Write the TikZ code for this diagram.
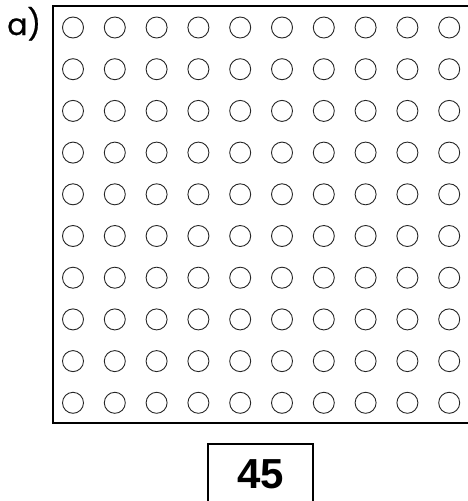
\documentclass[tikz,border=0pt]{standalone}
\usepackage{fontspec}
\newfontfamily\labelfont[FakeBold=0.6]{Poppins}
\newfontfamily\numfont{Liberation Sans}
\tikzset{
  dot/.style={circle, draw=black!85, line width=0.9pt, minimum size=21pt, inner sep=0pt},
  frame/.style={draw=black, line width=2pt},
}
\begin{document}
\begin{tikzpicture}[x=1pt,y=-1pt]
\useasboundingbox (0,0) rectangle (467,501);
\fill[white] (0,0) rectangle (467,501);
% grid frame (right side beyond the picture)
\draw[frame] (480,6) -- (53,6) -- (53,423) -- (480,423);
\foreach \i in {0,...,9}{
  \foreach \j in {0,...,9}{
    \node[dot] (c-\i-\j) at ({73+41.8*\i},{27.5+41.7*\j}) {};
  }
}
\node[anchor=base west, inner sep=0pt, font=\labelfont\fontsize{30}{34}\selectfont] (lbl) at (7,35) {a)};
% answer box
\draw[frame] (208,520) -- (208,444) -- (313,444) -- (313,520);
\node[font=\numfont\bfseries\fontsize{42}{46}\selectfont, inner sep=0pt] (ans) at (260.5,474) {45};
\end{tikzpicture}
\end{document}
